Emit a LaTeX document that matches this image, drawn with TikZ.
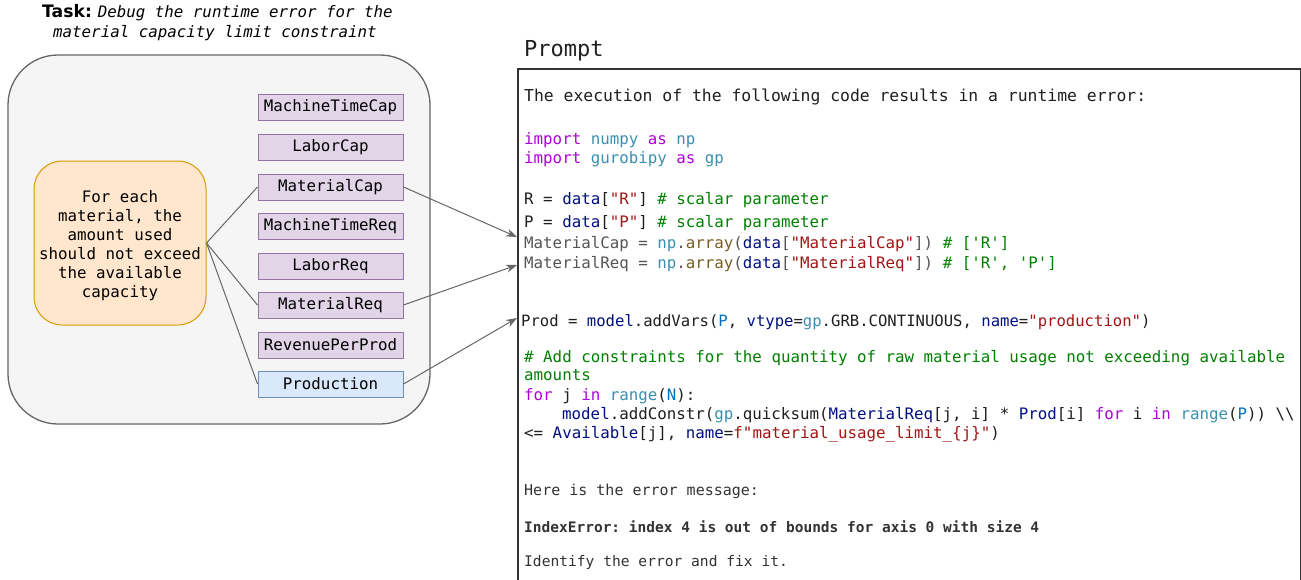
\documentclass[tikz,border=0pt]{standalone}
\usepackage{fontspec}
\setmainfont{DejaVu Sans}
\setmonofont{DejaVu Sans Mono}
\usetikzlibrary{arrows.meta}
\definecolor{cgrayline}{HTML}{666666}
\definecolor{cgroupfill}{HTML}{F5F5F5}
\definecolor{corangefill}{HTML}{FFE6CC}
\definecolor{corangeline}{HTML}{D79B00}
\definecolor{cpurplefill}{HTML}{E1D5E7}
\definecolor{cpurpleline}{HTML}{9673A6}
\definecolor{cbluefill}{HTML}{DAE8FC}
\definecolor{cblueline}{HTML}{6C8EBF}
\definecolor{cframe}{HTML}{333333}
\definecolor{ctext}{HTML}{1F1F1F}
\definecolor{cgreytext}{HTML}{555555}
\definecolor{cmsg}{HTML}{333333}
\definecolor{ckwc}{HTML}{AF00DB}
\definecolor{cmodc}{HTML}{3A8FB0}
\definecolor{cvarc}{HTML}{001080}
\definecolor{cstrc}{HTML}{A31515}
\definecolor{ccomc}{HTML}{008000}
\definecolor{cfunc}{HTML}{795E26}
\definecolor{cnumc}{HTML}{0070C1}
\newcommand{\ckw}[1]{\textcolor{ckwc}{#1}}
\newcommand{\cmod}[1]{\textcolor{cmodc}{#1}}
\newcommand{\cvar}[1]{\textcolor{cvarc}{#1}}
\newcommand{\cstr}[1]{\textcolor{cstrc}{#1}}
\newcommand{\ccom}[1]{\textcolor{ccomc}{#1}}
\newcommand{\cfun}[1]{\textcolor{cfunc}{#1}}
\newcommand{\cnum}[1]{\textcolor{cnumc}{#1}}
\begin{document}
\begin{tikzpicture}[x=1pt,y=-1pt,
  groupbox/.style={draw=cgrayline, fill=cgroupfill, rounded corners=50pt, line width=1.3pt, minimum width=422pt, minimum height=369pt, inner sep=0pt},
  condbox/.style={draw=corangeline, fill=corangefill, rounded corners=28pt, line width=1pt, minimum width=172pt, minimum height=164pt, inner sep=0pt, align=center, font=\ttfamily\fontsize{15.8}{19}\selectfont},
  parambox/.style={draw=cpurpleline, fill=cpurplefill, line width=1pt, minimum width=145pt, minimum height=26pt, inner sep=0pt, font=\ttfamily\fontsize{15.8}{19}\selectfont},
  varbox/.style={parambox, draw=cblueline, fill=cbluefill},
  promptbox/.style={draw=cframe, fill=white, line width=1.5pt, minimum width=783pt, minimum height=560pt, inner sep=0pt, anchor=north west},
  link/.style={draw=cgrayline, line width=1pt},
  arr/.style={link, -{Stealth[length=11pt,width=8pt]}},
  code/.style={anchor=base west, inner sep=0pt, text=ctext, font=\ttfamily\fontsize{15.8}{19}\selectfont},
  msg/.style={anchor=base west, inner sep=0pt, text=cmsg, font=\ttfamily\fontsize{14.6}{18}\selectfont}
]
\useasboundingbox (0,0) rectangle (1301,579);
\clip (0,0) rectangle (1301,579);

% task title
\node[anchor=base west, inner sep=0pt, font=\fontsize{17.2}{19}\selectfont] (task1) at (42,17)
  {\bfseries Task:~\mdseries\ttfamily\itshape\fontsize{15.8}{19}\selectfont Debug the runtime error for the};
\node[anchor=base west, inner sep=0pt, font=\ttfamily\itshape\fontsize{15.8}{19}\selectfont] (task2) at (53,37)
  {material capacity limit constraint};

% left group
\node[groupbox] (group) at (219,239.5) {};
\node[condbox, minimum height=164pt] (cond) at (120,243) {};
\node[inner sep=0pt, align=center, font=\ttfamily\fontsize{15.8}{19}\selectfont] (condtext) at (120,245.5) {For each\\material, the\\amount used\\should not exceed\\the available\\capacity};

\node[parambox] (mtc) at (330.5,107) {MachineTimeCap};
\node[parambox] (lc) at (330.5,147) {LaborCap};
\node[parambox] (mc) at (330.5,187) {MaterialCap};
\node[parambox] (mtr) at (330.5,226) {MachineTimeReq};
\node[parambox] (lr) at (330.5,266) {LaborReq};
\node[parambox] (mr) at (330.5,305) {MaterialReq};
\node[parambox] (rpp) at (330.5,345) {RevenuePerProd};
\node[varbox] (prod) at (330.5,384) {Production};

\draw[link] (cond.east) -- (mc.west);
\draw[link] (cond.east) -- (mr.west);
\draw[link] (cond.east) -- (prod.west);

% prompt
\node[anchor=base west, inner sep=0pt, text=ctext, font=\ttfamily\fontsize{22}{26}\selectfont] (ptitle) at (524,56) {Prompt};
\node[promptbox] (prompt) at (517,68) {};

\coordinate (p1) at (517,237);
\coordinate (p2) at (517,265);
\coordinate (p3) at (517,318);
\draw[arr] (mc.east) -- (p1);
\draw[arr] (mr.east) -- (p2);
\draw[arr] (prod.east) -- (p3);

% prompt text
\node[code, font=\ttfamily\fontsize{16.4}{19}\selectfont] (l1) at (524,101) {The execution of the following code results in a runtime error:};
\node[code] (l2) at (524,144) {\ckw{import} \cmod{numpy} \ckw{as} \cmod{np}};
\node[code] (l3) at (524,163) {\ckw{import} \cmod{gurobipy} \ckw{as} \cmod{gp}};
\node[code] (l4) at (524,204) {R = \cvar{data}[\cstr{"R"}] \ccom{\# scalar parameter}};
\node[code] (l5) at (524,227) {P = \cvar{data}[\cstr{"P"}] \ccom{\# scalar parameter}};
\node[code, text=cgreytext] (l6) at (524,248) {MaterialCap = \cmod{np}.\cfun{array}(\cvar{data}[\cstr{"MaterialCap"}]) \ccom{\# ['R']}};
\node[code, text=cgreytext] (l7) at (524,268) {MaterialReq = \cmod{np}.\cfun{array}(\cvar{data}[\cstr{"MaterialReq"}]) \ccom{\# ['R', 'P']}};
\node[code, font=\ttfamily\fontsize{15.6}{19}\selectfont] (l8) at (521,326) {Prod = \cvar{model}.addVars(\cnum{P}, \cvar{vtype}=\cmod{gp}.GRB.CONTINUOUS, \cvar{name}=\cstr{"production"})};
\node[code] (l9) at (524,362) {\ccom{\# Add constraints for the quantity of raw material usage not exceeding available}};
\node[code] (l10) at (524,380) {\ccom{amounts}};
\node[code] (l11) at (524,400) {\ckw{for} j \ckw{in} \cmod{range}(\cnum{N}):};
\node[code] (l12) at (562,419) {\cvar{model}.addConstr(\cmod{gp}.quicksum(\cvar{MaterialReq}[j, i] * \cvar{Prod}[i] \ckw{for} i \ckw{in} \cmod{range}(\cnum{P})) \textbackslash\textbackslash};
\node[code] (l13) at (524,438) {<= \cvar{Available}[j], \cvar{name}=\cstr{f"material\_usage\_limit\_\{j\}"})};
\node[msg, font=\ttfamily\fontsize{15.0}{18}\selectfont] (m1) at (524,495) {Here is the error message:};
\node[msg, font=\ttfamily\bfseries\fontsize{14.5}{18}\selectfont] (m2) at (524,532) {IndexError: index 4 is out of bounds for axis 0 with size 4};
\node[msg] (m3) at (524,566) {Identify the error and fix it.};
\end{tikzpicture}
\end{document}
